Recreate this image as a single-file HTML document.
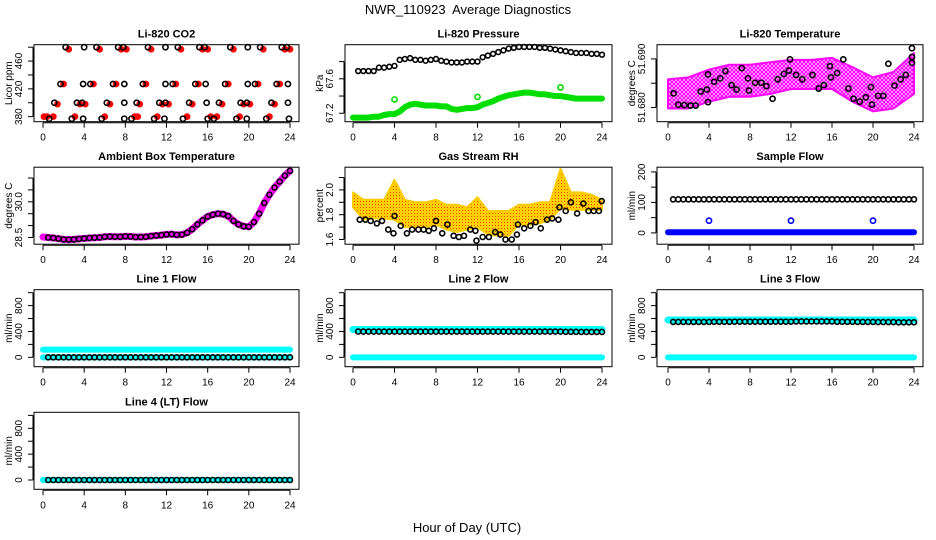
<!DOCTYPE html>
<html><head><meta charset="utf-8"><title>NWR_110923 Average Diagnostics</title>
<style>
html,body{margin:0;padding:0;background:#fff;}
svg{display:block;font-family:"Liberation Sans",Arial,sans-serif;}
</style></head>
<body>
<svg id="chart" width="936" height="540" viewBox="0 0 936 540" xmlns="http://www.w3.org/2000/svg">
<defs>
<pattern id="magPat" width="4" height="4" patternUnits="userSpaceOnUse"><rect width="4" height="4" fill="#ffffff"/><circle cx="2" cy="2" r="1.5" fill="none" stroke="#ff00ff" stroke-width="1.3"/></pattern>
<pattern id="rhPat" width="3" height="3" patternUnits="userSpaceOnUse"><rect width="3" height="3" fill="#ffe000"/><rect x="0" y="0" width="1" height="1" fill="#ff2000"/><rect x="1.5" y="1.5" width="1" height="1" fill="#ff8000"/></pattern>
</defs>
<text x="468" y="14" font-size="13" text-anchor="middle" xml:space="preserve">NWR_110923  Average Diagnostics</text>
<text x="467" y="532" font-size="13" text-anchor="middle">Hour of Day (UTC)</text>
<g id="panels"></g>
</svg>
<script>
// ---------- data ----------
var xTickLabels = [0,4,8,12,16,20,24];

var co2BlackHours = [2.2,4.0,5.2,7.3,7.8,10.2,11.9,13.1,15.2,15.7,18.2,19.9,21.1,23.2,23.7,
  1.7,3.9,4.6,6.8,7.9,9.7,11.9,12.6,14.8,15.8,17.7,19.9,20.6,22.7,23.8,
  1.1,3.3,3.8,6.2,7.9,9.1,11.3,11.9,14.2,15.9,17.1,19.2,19.8,22.2,23.8,
  0.6,2.8,3.9,5.7,7.9,8.6,10.8,11.8,13.6,16.0,16.6,18.8,19.8,21.7,23.9];
var co2BlackValues = [480,480,480,480,480,480,480,480,480,480,480,480,480,480,480,
  427,427,427,427,427,427,427,427,427,427,427,427,427,427,427,
  400,400,400,400,400,400,400,400,400,400,400,400,400,400,400,
  377,377,377,377,377,377,377,377,377,377,377,377,377,377,377];
var co2RedHours = [2.5,5.5,7.6,8.1,10.5,13.4,15.5,16.0,18.5,21.4,23.5,24.0,
  2.0,4.9,7.1,10.0,12.9,15.1,18.0,20.9,23.0,
  1.4,3.6,4.1,6.5,9.4,11.6,12.2,14.5,17.4,19.5,20.1,22.5,
  0.1,0.4,1.0,3.1,6.0,8.9,9.2,11.1,14.0,16.3,16.9,19.1,22.0];
var co2RedValues = [477,477,477,477,477,477,477,477,477,477,477,477,
  427,427,427,427,427,427,427,427,427,
  398,398,398,398,398,398,398,398,398,398,398,398,
  380,380,380,380,380,380,380,380,380,380,380,380,380];

var pressBlackHours = [0.5,1,1.5,2,2.5,3,3.5,4,4.5,5,5.5,6,6.5,7,7.5,8,8.5,9,9.5,10,10.5,11,11.5,12,12.5,13,13.5,14,14.5,15,15.5,16,16.5,17,17.5,18,18.5,19,19.5,20,20.5,21,21.5,22,22.5,23,23.5,24];
var pressBlackValues = [67.69,67.69,67.69,67.69,67.73,67.73,67.74,67.75,67.82,67.83,67.84,67.82,67.82,67.81,67.82,67.83,67.81,67.80,67.79,67.79,67.79,67.80,67.80,67.80,67.85,67.87,67.89,67.91,67.93,67.95,67.96,67.97,67.97,67.97,67.97,67.96,67.96,67.95,67.94,67.93,67.92,67.91,67.90,67.90,67.90,67.89,67.89,67.88];
var pressGreenHours = [0,0.5,1,1.5,2,2.5,3,3.5,4,4.5,5,5.5,6,6.5,7,7.5,8,8.5,9,9.5,10,10.5,11,11.5,12,12.5,13,13.5,14,14.5,15,15.5,16,16.5,17,17.5,18,18.5,19,19.5,20,20.5,21,21.5,22,22.5,23,23.5,24];
var pressGreenValues = [67.15,67.15,67.15,67.15,67.16,67.16,67.18,67.19,67.19,67.22,67.27,67.30,67.31,67.30,67.29,67.29,67.29,67.28,67.28,67.25,67.24,67.25,67.26,67.26,67.27,67.30,67.32,67.34,67.37,67.39,67.41,67.42,67.43,67.44,67.44,67.43,67.42,67.42,67.41,67.40,67.40,67.39,67.38,67.37,67.37,67.37,67.37,67.37,67.37];
var pressOutlierHours = [4,12,20];
var pressOutlierValues = [67.36,67.39,67.50];

var tempBandHours = [0,2,4,6,8,10,12,14,16,18,20,22,24];
var tempBandLow = [51.6798,51.6798,51.6812,51.6822,51.6822,51.6828,51.6838,51.6838,51.6838,51.6812,51.6792,51.6798,51.6828];
var tempBandHigh = [51.6858,51.6862,51.6878,51.6888,51.6888,51.6893,51.6898,51.6898,51.6902,51.6883,51.6862,51.6873,51.6912];
var tempBlackHours = [0.55,1.0,1.6,2.2,2.7,3.2,3.8,3.9,3.9,4.5,5.1,5.6,6.2,6.7,7.2,7.8,7.9,8.5,9.1,9.6,10.2,10.7,11.3,11.8,11.9,12.5,13.1,14.1,14.7,15.2,15.8,15.9,16.5,17.1,17.6,18.1,18.7,19.3,19.8,19.9,20.5,21.0,21.5,22.1,22.7,23.2,23.8,23.8,23.8];
var tempBlackValues = [51.6829,51.6806,51.6805,51.6804,51.6804,51.6833,51.6837,51.6811,51.6868,51.6853,51.6860,51.6875,51.6846,51.6837,51.6881,51.6860,51.6835,51.6851,51.6851,51.6844,51.6818,51.6858,51.6869,51.6876,51.6899,51.6867,51.6858,51.6867,51.6839,51.6846,51.6885,51.6862,51.6871,51.6899,51.6839,51.6818,51.6812,51.6821,51.6842,51.6806,51.6824,51.6824,51.6890,51.6845,51.6858,51.6867,51.6892,51.6904,51.6922];

var ambHours = [0,0.5,1,1.5,2,2.5,3,3.5,4,4.5,5,5.5,6,6.5,7,7.5,8,8.5,9,9.5,10,10.5,11,11.5,12,12.5,13,13.5,14,14.5,15,15.5,16,16.5,17,17.5,18,18.5,19,19.5,20,20.5,21,21.5,22,22.5,23,23.5,24];
var ambValues = [28.52,28.50,28.48,28.45,28.42,28.41,28.42,28.44,28.46,28.48,28.49,28.50,28.53,28.54,28.53,28.53,28.55,28.54,28.52,28.52,28.53,28.56,28.58,28.60,28.63,28.64,28.61,28.62,28.70,28.85,29.05,29.22,29.38,29.46,29.50,29.48,29.40,29.20,29.05,28.97,28.95,29.15,29.50,29.95,30.30,30.60,30.85,31.10,31.30];

var rhBandHours = [0,1,2,3,4,5,6,7,8,9,10,11,12,13,14,15,16,17,18,19,20,21,22,23,24];
var rhBandHigh = [1.98,1.92,1.92,1.92,2.08,1.92,1.90,1.90,1.92,1.88,1.88,1.86,1.94,1.83,1.83,1.83,1.88,1.88,1.90,1.90,2.17,1.98,1.98,1.96,1.92];
var rhBandLow = [1.86,1.76,1.77,1.77,1.76,1.70,1.70,1.70,1.72,1.68,1.66,1.68,1.70,1.64,1.63,1.63,1.72,1.72,1.73,1.76,1.85,1.84,1.84,1.84,1.84];
var rhBlackHours = [0.65,1.2,1.7,2.3,2.8,3.4,3.9,4.0,4.6,5.2,5.7,6.3,6.8,7.3,7.8,8.0,8.6,9.1,9.7,10.2,10.7,11.3,11.8,11.9,12.5,13.1,13.7,14.2,14.7,15.3,15.8,15.9,16.5,17.1,17.6,18.1,18.7,19.2,19.8,19.9,20.5,21.0,21.6,22.2,22.7,23.2,23.7,23.97];
var rhBlackValues = [1.76,1.76,1.75,1.73,1.75,1.68,1.65,1.79,1.71,1.65,1.68,1.68,1.68,1.67,1.69,1.75,1.65,1.72,1.63,1.62,1.63,1.68,1.67,1.59,1.62,1.62,1.66,1.64,1.60,1.60,1.64,1.72,1.69,1.71,1.74,1.69,1.76,1.77,1.76,1.86,1.83,1.90,1.81,1.89,1.83,1.83,1.83,1.91];

var flowHours = [0.5,1,1.5,2,2.5,3,3.5,4,4.5,5,5.5,6,6.5,7,7.5,8,8.5,9,9.5,10,10.5,11,11.5,12,12.5,13,13.5,14,14.5,15,15.5,16,16.5,17,17.5,18,18.5,19,19.5,20,20.5,21,21.5,22,22.5,23,23.5,24];
var sampleBlack = [110,110,110,110,110,110,110,110,110,110,110,110,110,110,110,110,110,110,110,110,110,110,110,110,110,110,110,110,110,110,110,110,110,110,110,110,110,110,110,110,110,110,110,110,110,110,110,110];
var sampleBlueHours = [0,24];
var sampleBlueValues = [2,2];
var sampleOutlierHours = [4,12,20];
var sampleOutlierValues = [40,40,40];

var line1Black = [0,0,0,0,0,0,0,0,0,0,0,0,0,0,0,0,0,0,0,0,0,0,0,0,0,0,0,0,0,0,0,0,0,0,0,0,0,0,0,0,0,0,0,0,0,0,0,0];
var line1CyanHigh = [120,120];
var line1CyanLow = [0,0];
var line2Black = [398,398,398,398,398,398,398,398,398,398,398,398,398,398,398,398,398,398,398,398,398,398,398,398,398,398,398,398,398,398,398,398,398,398,398,398,398,398,398,398,395,395,395,393,393,393,393,393];
var line2CyanHigh = [430,430];
var line2CyanLow = [0,0];
var line3Black = [548,548,548,548,548,548,548,548,550,550,550,550,552,552,552,552,552,552,552,552,552,552,552,552,555,555,555,555,555,555,555,555,550,550,550,550,548,548,548,548,545,545,545,545,542,542,542,542];
var line3CyanHigh = [578,578];
var line3CyanLow = [0,0];
var line4Black = [0,0,0,0,0,0,0,0,0,0,0,0,0,0,0,0,0,0,0,0,0,0,0,0,0,0,0,0,0,0,0,0,0,0,0,0,0,0,0,0,0,0,0,0,0,0,0,0];
var line4Cyan = [0,0];
var cyanSpanHours = [0,24];

// ---------- layout ----------
var NS = "http://www.w3.org/2000/svg";
var root = document.getElementById('panels');
var cols = [{l:34,r:299,x0:43,x24:290},{l:345,r:612,x0:353,x24:602},{l:657,r:923,x0:668,x24:914}];
var rows = [44.7,167.2,289.7,412.3];
var H = 77;

function mk(tag, attrs, parent){
  var e = document.createElementNS(NS, tag);
  for (var k in attrs) e.setAttribute(k, attrs[k]);
  (parent||root).appendChild(e);
  return e;
}

function panel(col, row, title, ylab, yMin, yMax, ticks, labels, name){
  var c = cols[col], top = rows[row], bot = top + H;
  var g = mk('g', {});
  
  
  var p = {g:g, top:top, bot:bot, c:c,
    x:function(h){return c.x0 + h*(c.x24-c.x0)/24;},
    y:function(v){return bot - (v-yMin)/(yMax-yMin)*H;}};
  var t = mk('text', {x:(c.l+c.r)/2, y:top-7, 'font-size':11, 'font-weight':'bold','text-anchor':'middle'}, g);
  t.textContent = title;
  
  
  var yl = mk('text', {x:0,y:0,'font-size':10,'text-anchor':'middle', transform:'translate('+(c.l-22)+','+((top+bot)/2)+') rotate(-90)'}, g);
  yl.textContent = ylab;
  
  
  var ya = mk('g', {}, g);
  
  
  mk('line', {x1:c.l-1, x2:c.l-1, y1:p.y(ticks[0]), y2:p.y(ticks[ticks.length-1]), stroke:'#000'}, ya);
  ticks.forEach(function(v){
    var yy = p.y(v);
    mk('line', {x1:c.l-6, x2:c.l-1, y1:yy, y2:yy, stroke:'#000'}, ya);
  });
  labels.forEach(function(lb){
    var yy = p.y(lb.v);
    var tx = mk('text', {x:0,y:0,'font-size':10,'text-anchor':'middle', transform:'translate('+(c.l-12)+','+yy+') rotate(-90)'}, ya);
    tx.textContent = lb.t;
    
    
  });
  var xa = mk('g', {}, g);
  
  
  mk('line', {x1:p.x(0), x2:p.x(24), y1:bot+1, y2:bot+1, stroke:'#000'}, xa);
  xTickLabels.forEach(function(h){
    var xx = p.x(h);
    mk('line', {x1:xx, x2:xx, y1:bot+1, y2:bot+6, stroke:'#000'}, xa);
    var tx = mk('text', {x:xx, y:bot+19, 'font-size':10, 'text-anchor':'middle'}, xa);
    tx.textContent = h;
    
    
  });
  p.box = function(){
    var b = mk('rect', {x:c.l, y:top, width:c.r-c.l, height:H, fill:'none', stroke:'#000', 'stroke-width':1}, g);
    
    
  };
  return p;
}

function circles(p, hs, vs, color, r, nm, fill){
  var sg = mk('g', {}, p.g);
  
  
  for (var i=0;i<hs.length;i++){
    var el = mk('circle', {cx:p.x(hs[i]), cy:p.y(vs[i]), r:r, fill:fill||'none', stroke:color, 'stroke-width':1.6}, sg);
    
    
  }
}
function thick(p, hs, vs, color, w, nm){
  var pts = hs.map(function(h,i){return p.x(h)+','+p.y(vs[i]);}).join(' ');
  var el = mk('polyline', {points:pts, fill:'none', stroke:color, 'stroke-width':w, 'stroke-linejoin':'round','stroke-linecap':'round'}, p.g);
  
  
}
function band(p, hs, lo, hi, fill, stroke, nm){
  var a = hs.map(function(h,i){return p.x(h)+','+p.y(hi[i]);});
  var b = hs.map(function(h,i){return p.x(h)+','+p.y(lo[i]);}).reverse();
  var el = mk('polygon', {points:a.concat(b).join(' '), fill:fill, stroke:stroke, 'stroke-width':2, 'stroke-linejoin':'round'}, p.g);
  
  
}
function L(arr){return arr.map(function(v){return {v:v,t:String(v)};});}
function range(a,b,s){var r=[];for(var v=a;v<=b+1e-9;v+=s)r.push(+v.toFixed(4));return r;}

var p1 = panel(0,0,'Li-820 CO2','Licor ppm',372.7,483.6,range(380,480,20),L([380,420,460]),'co2');
circles(p1, co2RedHours, co2RedValues, '#ff0000', 2.6, 'co2-red-series', '#ff0000');
circles(p1, co2BlackHours, co2BlackValues, '#000', 2.6, 'co2-black-series');
p1.box();

var p2 = panel(1,0,'Li-820 Pressure','kPa',67.102,67.996,[67.2,67.4,67.6,67.8],[{v:67.2,t:'67.2'},{v:67.6,t:'67.6'}],'pressure');
thick(p2, pressGreenHours, pressGreenValues, '#00dd00', 6, 'pressure-green-series');
circles(p2, pressOutlierHours, pressOutlierValues, '#00dd00', 2.6, 'pressure-green-outliers');
circles(p2, pressBlackHours, pressBlackValues, '#000', 2.4, 'pressure-black-series');
p2.box();

var p3 = panel(2,0,'Li-820 Temperature','degrees C',51.67708,51.69292,[51.680,51.685,51.690],[{v:51.680,t:'51.680'},{v:51.690,t:'51.690'}],'temperature');
band(p3, tempBandHours, tempBandLow, tempBandHigh, 'url(#magPat)', '#ff00ff', 'temperature-magenta-cloud');
circles(p3, tempBlackHours, tempBlackValues, '#000', 2.6, 'temperature-black-series');
p3.box();

var p4 = panel(0,1,'Ambient Box Temperature','degrees C',28.218,31.454,range(28.5,31.0,0.5),[{v:28.5,t:'28.5'},{v:30.0,t:'30.0'}],'ambient');
thick(p4, ambHours, ambValues, '#ff00ff', 7, 'ambient-magenta-series');
circles(p4, ambHours.slice(1), ambValues.slice(1), '#000', 2.5, 'ambient-black-series');
p4.box();

var p5 = panel(1,1,'Gas Stream RH','percent',1.562,2.183,range(1.6,2.1,0.1),L([1.6,1.8,2.0]).map(function(o){o.t=o.v.toFixed(1);return o;}),'rh');
band(p5, rhBandHours, rhBandLow, rhBandHigh, 'url(#rhPat)', '#ffcc00', 'rh-orange-cloud');
circles(p5, rhBlackHours, rhBlackValues, '#000', 2.5, 'rh-black-series');
p5.box();

var p6 = panel(2,1,'Sample Flow','ml/min',-37,215.4,range(0,200,50),L([0,100,200]),'sample-flow');
thick(p6, sampleBlueHours, sampleBlueValues, '#0000ff', 6, 'sample-flow-blue-series');
circles(p6, sampleOutlierHours, sampleOutlierValues, '#0000ff', 2.6, 'sample-flow-blue-outliers');
circles(p6, flowHours, sampleBlack, '#000', 2.5, 'sample-flow-black-series');
p6.box();

var fTicks = range(0,1000,200), fLab = L([0,400,800]);
var p7 = panel(0,2,'Line 1 Flow','ml/min',-145,1046,fTicks,fLab,'line1-flow');
thick(p7, cyanSpanHours, line1CyanHigh, '#00ffff', 6, 'line1-cyan-high');
thick(p7, cyanSpanHours, line1CyanLow, '#00ffff', 6, 'line1-cyan-low');
circles(p7, flowHours, line1Black, '#000', 2.5, 'line1-black-series');
p7.box();
var p8 = panel(1,2,'Line 2 Flow','ml/min',-145,1046,fTicks,fLab,'line2-flow');
thick(p8, cyanSpanHours, line2CyanHigh, '#00ffff', 7, 'line2-cyan-high');
thick(p8, cyanSpanHours, line2CyanLow, '#00ffff', 6, 'line2-cyan-low');
circles(p8, flowHours, line2Black, '#000', 2.5, 'line2-black-series');
p8.box();
var p9 = panel(2,2,'Line 3 Flow','ml/min',-145,1046,fTicks,fLab,'line3-flow');
thick(p9, cyanSpanHours, line3CyanHigh, '#00ffff', 7, 'line3-cyan-high');
thick(p9, cyanSpanHours, line3CyanLow, '#00ffff', 6, 'line3-cyan-low');
circles(p9, flowHours, line3Black, '#000', 2.5, 'line3-black-series');
p9.box();
var p10 = panel(0,3,'Line 4 (LT) Flow','ml/min',-144,1048,fTicks,fLab,'line4-flow');
thick(p10, cyanSpanHours, line4Cyan, '#00ffff', 6, 'line4-cyan-series');
circles(p10, flowHours, line4Black, '#000', 2.5, 'line4-black-series');
p10.box();
</script>
</body></html>
